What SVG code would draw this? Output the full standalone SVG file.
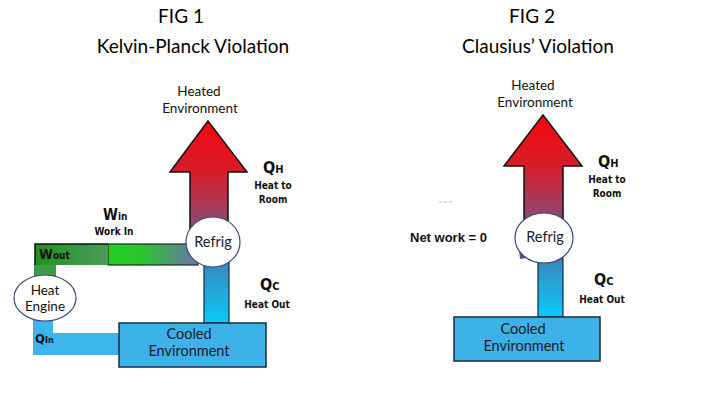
<svg xmlns="http://www.w3.org/2000/svg" width="720" height="405" viewBox="0 0 720 405">
<defs>
<linearGradient id="red1" gradientUnits="userSpaceOnUse" x1="0" y1="121" x2="0" y2="240"><stop offset="0" stop-color="#F5070F"/><stop offset="0.45" stop-color="#D41F2C"/><stop offset="1" stop-color="#76588C"/></linearGradient>
<linearGradient id="red2" gradientUnits="userSpaceOnUse" x1="0" y1="115" x2="0" y2="235"><stop offset="0" stop-color="#F5070F"/><stop offset="0.45" stop-color="#D41F2C"/><stop offset="1" stop-color="#76588C"/></linearGradient>
<linearGradient id="blue1" gradientUnits="userSpaceOnUse" x1="0" y1="262" x2="0" y2="323"><stop offset="0" stop-color="#3A86BC"/><stop offset="1" stop-color="#08CBF8"/></linearGradient>
<linearGradient id="blue2" gradientUnits="userSpaceOnUse" x1="0" y1="258" x2="0" y2="317"><stop offset="0" stop-color="#3A86BC"/><stop offset="1" stop-color="#08CBF8"/></linearGradient>
<linearGradient id="green" gradientUnits="userSpaceOnUse" x1="108" y1="0" x2="196" y2="0"><stop offset="0" stop-color="#1ED01E"/><stop offset="0.4" stop-color="#2EC232"/><stop offset="1" stop-color="#6A74A6"/></linearGradient>
<linearGradient id="dgreen" gradientUnits="userSpaceOnUse" x1="35" y1="0" x2="108" y2="0"><stop offset="0" stop-color="#23921F"/><stop offset="1" stop-color="#4A9A5A"/></linearGradient>
</defs>
<style>
.ti{font-family:"Lato","Liberation Sans",sans-serif;font-size:19px;fill:#000;text-anchor:middle}
.lb{font-family:"Lato","Liberation Sans",sans-serif;font-size:13.5px;fill:#111;text-anchor:middle}
.bx{font-family:"Lato","Liberation Sans",sans-serif;font-size:14.5px;fill:#1a1a2a;text-anchor:middle}
.q{font-family:"Liberation Sans Narrow","DejaVu Sans Condensed","Liberation Sans",sans-serif;font-weight:bold;fill:#111}
.qs{font-family:"Liberation Sans Narrow","DejaVu Sans Condensed","Liberation Sans",sans-serif;font-weight:bold;font-size:10px;fill:#111;text-anchor:middle}
.arr{stroke:#111;stroke-width:1.5}
.node{fill:#fff;stroke:#3A4A7A;stroke-width:1.2}
.box{fill:#3DB2E8;stroke:#1A2A3A;stroke-width:1.5}
</style>

<g id="fig1-title">
<text class="ti" x="181" y="23">FIG 1</text>
<text class="ti" x="193" y="53">Kelvin-Planck Violation</text>
</g>
<g id="fig2-title">
<text class="ti" x="532" y="23">FIG 2</text>
<text class="ti" x="538" y="53">Clausius’ Violation</text>
</g>

<g id="connectors">
<polygon class="arr" fill="url(#red1)" points="208,121 247,172 228,172 228,245 190,245 190,172 170,172"/>
<path d="M33,318 H53 V333 H122 V355 H33 Z" fill="#3BB5EA"/>
<rect x="34" y="263" width="22" height="14" fill="#3C9C44"/>
<rect x="108" y="244" width="90" height="21" fill="url(#green)" stroke="#1a2a1a" stroke-width="1.2"/>
<rect x="35" y="244" width="73" height="21" fill="url(#dgreen)"/>
<path d="M35,265 V244 H108" fill="none" stroke="#111" stroke-width="1.5"/>
<rect x="204" y="262" width="25" height="61" fill="url(#blue1)" stroke="#1A2A3A" stroke-width="1.2"/>
<polygon class="arr" fill="url(#red2)" points="543,115 582,166 563,166 563,240 524,240 524,166 504,166"/>
<rect x="538" y="258" width="25" height="59" fill="url(#blue2)" stroke="#1A2A3A" stroke-width="1.2"/>
<path d="M519,250 L527,258 L520,259 Z" fill="#4A5A7A"/>
</g>

<g id="heated1">
<text class="lb" x="199" y="96">Heated</text>
<text class="lb" x="200" y="113">Environment</text>
</g>
<g id="cooled1">
<rect class="box" x="119" y="323" width="147" height="44"/>
<text class="bx" x="189" y="339">Cooled</text>
<text class="bx" x="189" y="356">Environment</text>
</g>
<g id="engine">
<ellipse class="node" cx="45" cy="298" rx="31" ry="23"/>
<text class="lb" x="45" y="295">Heat</text>
<text class="lb" x="45" y="311">Engine</text>
</g>
<g id="refrig1">
<ellipse class="node" cx="213" cy="242" rx="27" ry="25"/>
<text class="bx" x="213" y="247">Refrig</text>
</g>

<g id="labels1">
<text class="q" x="39" y="259" font-size="14">W<tspan font-size="10">out</tspan></text>
<text class="q" x="103" y="220" font-size="15">W<tspan font-size="10">in</tspan></text>
<text class="qs" x="114" y="235">Work In</text>
<text class="q" x="263" y="173" font-size="16">Q<tspan font-size="11">H</tspan></text>
<text class="qs" x="273" y="189">Heat to</text>
<text class="qs" x="273" y="203">Room</text>
<text class="q" x="260" y="290" font-size="16">Q<tspan font-size="11">C</tspan></text>
<text class="qs" x="267" y="308">Heat Out</text>
<text class="q" x="35" y="343" font-size="13">Q<tspan font-size="9">In</tspan></text>
</g>

<g id="heated2">
<text class="lb" x="533" y="90">Heated</text>
<text class="lb" x="535" y="107">Environment</text>
</g>
<g id="cooled2">
<rect class="box" x="454" y="317" width="146" height="44"/>
<text class="bx" x="523" y="334">Cooled</text>
<text class="bx" x="524" y="351">Environment</text>
</g>
<g id="refrig2">
<ellipse class="node" cx="544" cy="238" rx="29" ry="25"/>
<text class="bx" x="545" y="242">Refrig</text>
</g>
<g id="labels2">
<line x1="439" y1="202" x2="453" y2="202" stroke="#bbb" stroke-width="1" stroke-dasharray="3,2"/>
<text x="410" y="242" font-family="Liberation Sans,sans-serif" font-weight="bold" font-size="13" fill="#111">Net work = 0</text>
<text class="q" x="598" y="167" font-size="16">Q<tspan font-size="11">H</tspan></text>
<text class="qs" x="607" y="183">Heat to</text>
<text class="qs" x="607" y="197">Room</text>
<text class="q" x="594" y="285" font-size="16">Q<tspan font-size="11">C</tspan></text>
<text class="qs" x="602" y="303">Heat Out</text>
</g>
</svg>
